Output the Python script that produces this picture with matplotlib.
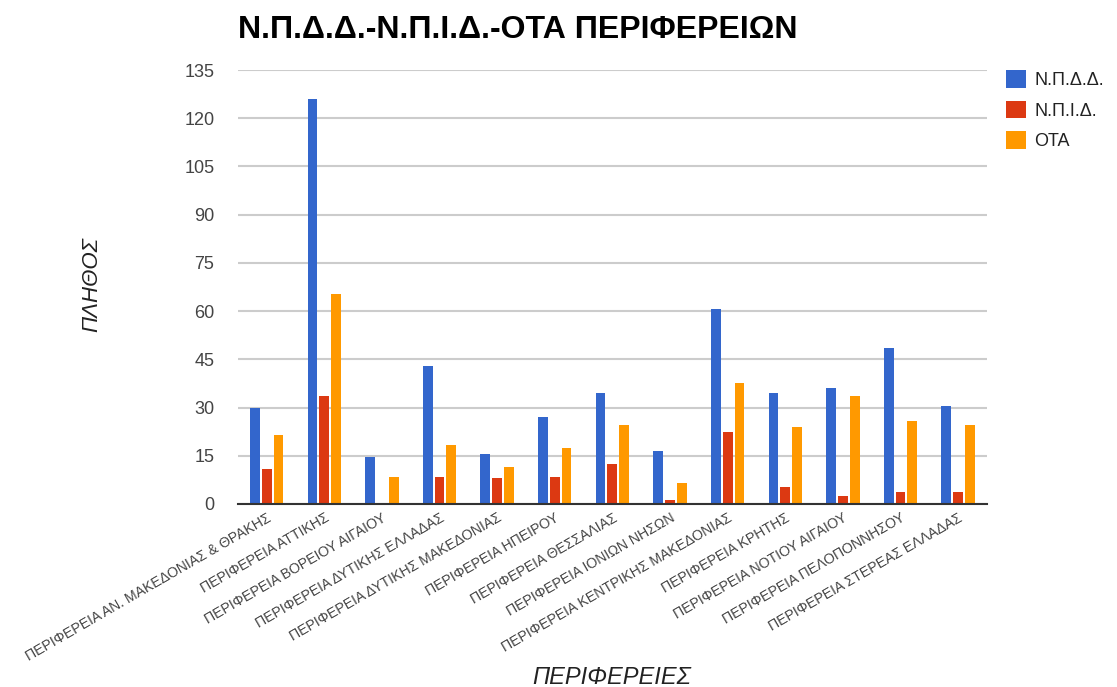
import numpy as np
import matplotlib
matplotlib.use('Agg')
import matplotlib.pyplot as plt

plt.rcParams['font.family'] = ['Liberation Sans', 'DejaVu Sans']

regions = [
    "ΠΕΡΙΦΕΡΕΙΑ ΑΝ. ΜΑΚΕΔΟΝΙΑΣ & ΘΡΑΚΗΣ",
    "ΠΕΡΙΦΕΡΕΙΑ ΑΤΤΙΚΗΣ",
    "ΠΕΡΙΦΕΡΕΙΑ ΒΟΡΕΙΟΥ ΑΙΓΑΙΟΥ",
    "ΠΕΡΙΦΕΡΕΙΑ ΔΥΤΙΚΗΣ ΕΛΛΑΔΑΣ",
    "ΠΕΡΙΦΕΡΕΙΑ ΔΥΤΙΚΗΣ ΜΑΚΕΔΟΝΙΑΣ",
    "ΠΕΡΙΦΕΡΕΙΑ ΗΠΕΙΡΟΥ",
    "ΠΕΡΙΦΕΡΕΙΑ ΘΕΣΣΑΛΙΑΣ",
    "ΠΕΡΙΦΕΡΕΙΑ ΙΟΝΙΩΝ ΝΗΣΩΝ",
    "ΠΕΡΙΦΕΡΕΙΑ ΚΕΝΤΡΙΚΗΣ ΜΑΚΕΔΟΝΙΑΣ",
    "ΠΕΡΙΦΕΡΕΙΑ ΚΡΗΤΗΣ",
    "ΠΕΡΙΦΕΡΕΙΑ ΝΟΤΙΟΥ ΑΙΓΑΙΟΥ",
    "ΠΕΡΙΦΕΡΕΙΑ ΠΕΛΟΠΟΝΝΗΣΟΥ",
    "ΠΕΡΙΦΕΡΕΙΑ ΣΤΕΡΕΑΣ ΕΛΛΑΔΑΣ",
]
npdd = [30, 126, 14.5, 43, 15.5, 27, 34.5, 16.5, 60.5, 34.5, 36, 48.5, 30.5]
npid = [11, 33.5, 0, 8.5, 8, 8.5, 12.5, 1.3, 22.5, 5.3, 2.4, 3.7, 3.7]
ota = [21.5, 65.3, 8.5, 18.5, 11.5, 17.3, 24.5, 6.6, 37.6, 24, 33.5, 25.7, 24.5]

series_names = ["Ν.Π.Δ.Δ.", "Ν.Π.Ι.Δ.", "ΟΤΑ"]
colors = ["#3366cc", "#dc3912", "#ff9900"]

fig = plt.figure(figsize=(11.17, 6.87), dpi=100)
ax = fig.add_axes([0.213, 0.2664, 0.6705, 0.6317])

x = np.arange(len(regions))
w = 0.17
step = 0.205
for i, (vals, name, c) in enumerate(zip([npdd, npid, ota], series_names, colors)):
    ax.bar(x + (i - 1) * step, vals, width=w, color=c, label=name, zorder=3)

ax.set_xlim(-0.5, len(regions) - 0.5)
ax.set_ylim(0, 135)
ax.set_yticks(range(0, 136, 15))
ax.yaxis.grid(True, color='#cccccc', linewidth=1.5, zorder=0)
for s in ['top', 'right', 'left']:
    ax.spines[s].set_visible(False)
ax.spines['bottom'].set_color('#333333')
ax.spines['bottom'].set_linewidth(1.5)
ax.spines['bottom'].set_zorder(4)
ax.tick_params(axis='y', length=0, pad=17, labelsize=13, labelcolor='#444444')
ax.tick_params(axis='x', length=0, pad=5)
ax.set_xticks(x)
ax.set_xticklabels(regions, rotation=30, ha='right', rotation_mode='anchor',
                   fontsize=10.2, color='#444444')

fig.text(238 / 1117, 1 - 30 / 687, "Ν.Π.Δ.Δ.-Ν.Π.Ι.Δ.-ΟΤΑ ΠΕΡΙΦΕΡΕΙΩΝ",
         fontsize=23, fontweight='bold', va='center', ha='left', color='#000000')
fig.text(92 / 1117, 1 - 285 / 687, "ΠΛΗΘΟΣ", rotation=90, fontsize=16,
         style='italic', va='center', ha='center', color='#222222')
fig.text(612 / 1117, 1 - 677 / 687, "ΠΕΡΙΦΕΡΕΙΕΣ", fontsize=17,
         style='italic', va='center', ha='center', color='#222222')

fig.legend(loc='upper left', bbox_to_anchor=(990 / 1117, 1 - 54 / 687),
           frameon=False, fontsize=13, handlelength=1.1, handleheight=1.1,
           handletextpad=0.45, labelspacing=0.65, labelcolor='#222222')

fig.savefig('out.png', dpi=100)
